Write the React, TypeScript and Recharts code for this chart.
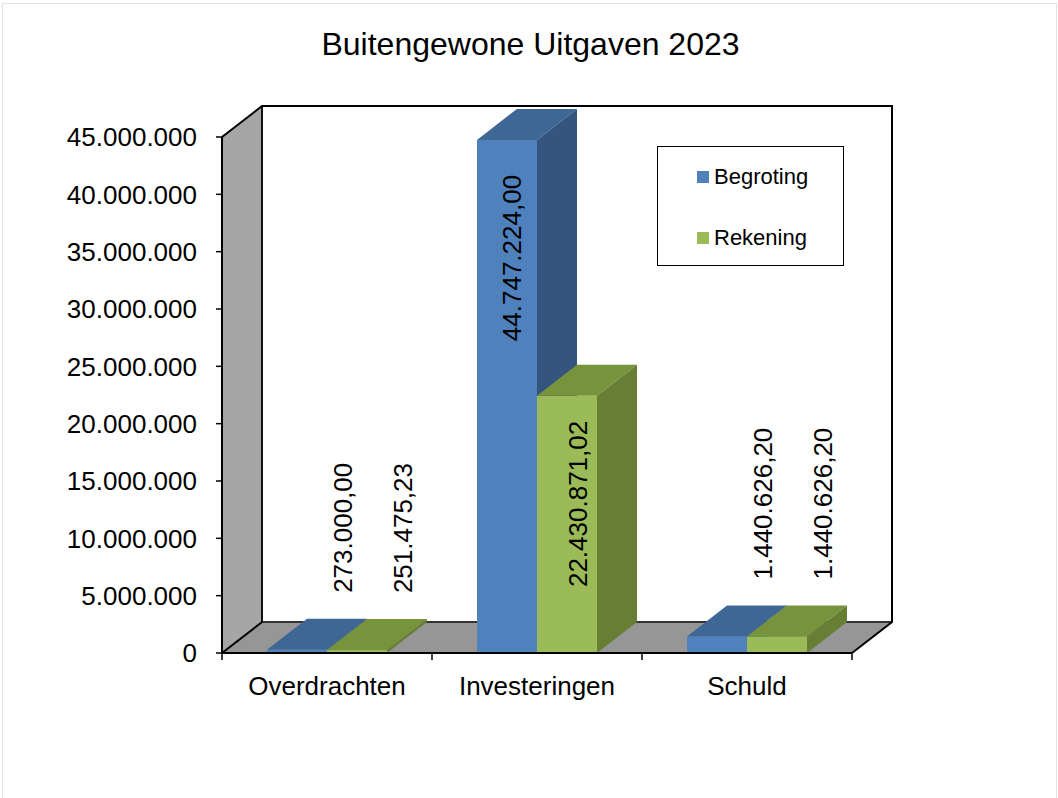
import React from 'react';
import { BarChart, Bar, XAxis, YAxis, ReferenceArea, LabelList, Legend } from 'recharts';

const categories = ['Overdrachten', 'Investeringen', 'Schuld'];
const begroting = [273000.0, 44747224.0, 1440626.2];
const rekening = [251475.23, 22430871.02, 1440626.2];
const yTicks = [0, 5000000, 10000000, 15000000, 20000000, 25000000, 30000000, 35000000, 40000000, 45000000];
const seriesNames = ['Begroting', 'Rekening'];
const title = 'Buitengewone Uitgaven 2023';

const data = categories.map((c, i) => ({ category: c, begroting: begroting[i], rekening: rekening[i] }));

const FONT = '"Liberation Sans", Arial, Helvetica, sans-serif';
const DX = 40;
const DY = -31;

const COLORS = {
  begroting: { front: '#4F81BD', top: '#3F6795', side: '#34557F' },
  rekening: { front: '#9BBB59', top: '#77933C', side: '#667F35' },
};

const thousands = (s: string) => s.replace(/\B(?=(\d{3})+(?!\d))/g, '.');
const fmtTick = (v: number) => thousands(String(Math.round(v)));
const fmtLabel = (v: number) => {
  const [i, d] = v.toFixed(2).split('.');
  return thousands(i) + ',' + d;
};

const make3DBar = (c: { front: string; top: string; side: string }) => (props: any) => {
  const { x, y, width: w, height: h } = props;
  if (x == null || w == null || h == null) return null;
  return (
    <g>
      <rect x={x} y={y} width={w} height={h} fill={c.front} />
      <polygon points={`${x},${y} ${x + DX},${y + DY} ${x + w + DX},${y + DY} ${x + w},${y}`} fill={c.top} />
      <polygon points={`${x + w},${y} ${x + w + DX},${y + DY} ${x + w + DX},${y + h + DY} ${x + w},${y + h}`} fill={c.side} />
    </g>
  );
};

const makeLabel = (insideOffset: number, insideDx: number) => (props: any) => {
  const { x, y, width, height, value } = props;
  if (value == null) return null;
  const text = fmtLabel(Number(value));
  const inside = height > 150;
  const cx = x + width / 2 + (inside ? insideDx : 46);
  const ty = inside ? y + insideOffset : y - 57;
  return (
    <text
      x={cx}
      y={ty}
      transform={`rotate(-90 ${cx} ${ty})`}
      textAnchor={inside ? 'end' : 'start'}
      dy="0.36em"
      fontSize={26}
      fontFamily={FONT}
      fill="#000"
    >
      {text}
    </text>
  );
};

const Frame = (props: any) => {
  const { x, y, width: w, height: h } = props;
  if (x == null) return null;
  const n = categories.length;
  const bx = x + DX;
  const by = y + DY;
  const fy = y + h;
  const ticks = [];
  for (let i = 0; i <= n; i++) {
    const tx = x + (w * i) / n;
    ticks.push(<line key={i} x1={tx} y1={fy} x2={tx} y2={fy + 7} stroke="#000" strokeWidth={1.5} />);
  }
  return (
    <g>
      <polygon points={`${x},${y} ${bx},${by} ${bx},${fy + DY} ${x},${fy}`} fill="#A6A6A6" />
      <polygon points={`${x},${fy} ${bx},${fy + DY} ${bx + w},${fy + DY} ${x + w},${fy}`} fill="#969696" />
      <line x1={bx} y1={fy + DY} x2={bx + w} y2={fy + DY} stroke="#333" strokeWidth={2} />
      <line x1={bx} y1={by} x2={bx} y2={fy + DY} stroke="#111" strokeWidth={2} />
      <polyline points={`${x},${y} ${bx},${by} ${bx + w},${by} ${bx + w},${fy + DY} ${x + w},${fy}`} fill="none" stroke="#000" strokeWidth={2} />
      <line x1={x} y1={fy} x2={bx} y2={fy + DY} stroke="#000" strokeWidth={2} />
      <line x1={x} y1={fy} x2={x + w} y2={fy} stroke="#000" strokeWidth={2} />
      {ticks}
    </g>
  );
};

const LegendBox = (p: any) => {
  const items = (p.payload || []) as any[];
  return (
    <div
      style={{
        width: 185,
        height: 118,
        border: '1px solid #000',
        position: 'relative',
        background: '#fff',
        fontFamily: FONT,
      }}
    >
      {items.map((e, i) => (
        <div
          key={i}
          style={{ position: 'absolute', left: 39, top: 18 + i * 61, height: 24, display: 'flex', alignItems: 'center', whiteSpace: 'nowrap' }}
        >
          <span style={{ display: 'inline-block', width: 12, height: 12, background: e.color, marginRight: 5 }} />
          <span style={{ fontSize: 22, color: '#000' }}>{e.value}</span>
        </div>
      ))}
    </div>
  );
};

export default function App() {
  return (
    <div style={{ position: 'absolute', left: 0, top: 0, width: 1058, height: 798, background: '#fff', overflow: 'hidden' }}>
      <div
        style={{
          position: 'absolute',
          left: 2,
          top: 3,
          width: 1053,
          height: 800,
          border: '1px solid #dfe4ec',
        }}
      />
      <div
        style={{
          position: 'absolute',
          left: 0,
          top: 28,
          width: 1061,
          textAlign: 'center',
          fontFamily: FONT,
          fontSize: 32,
          lineHeight: 1,
          color: '#000',
        }}
      >
        {title}
      </div>
      <div style={{ position: 'absolute', left: 0, top: 0 }}>
        <BarChart
          width={1058}
          height={798}
          data={data}
          margin={{ top: 137, right: 206, bottom: 115, left: 22 }}
          barSize={60}
          barGap={0}
        >
          <XAxis
            dataKey="category"
            height={30}
            axisLine={{ stroke: '#000', strokeWidth: 2 }}
            tickLine={false}
            tickSize={6}
            tickMargin={18}
            tick={{ fontSize: 26, fill: '#000', fontFamily: FONT }}
            interval={0}
          />
          <YAxis
            width={200}
            domain={[0, 45000000]}
            ticks={yTicks}
            interval={0}
            tickFormatter={fmtTick}
            axisLine={{ stroke: '#000', strokeWidth: 2 }}
            tickLine={{ stroke: '#000', strokeWidth: 1.5 }}
            tickSize={6}
            tickMargin={19}
            tick={{ fontSize: 26, fill: '#000', fontFamily: FONT }}
          />
          <ReferenceArea y1={0} y2={45000000} shape={Frame} ifOverflow="visible" />
          <Bar dataKey="begroting" name={seriesNames[0]} fill={COLORS.begroting.front} shape={make3DBar(COLORS.begroting)} isAnimationActive={false}>
            <LabelList dataKey="begroting" content={makeLabel(35, 5)} />
          </Bar>
          <Bar dataKey="rekening" name={seriesNames[1]} fill={COLORS.rekening.front} shape={make3DBar(COLORS.rekening)} isAnimationActive={false}>
            <LabelList dataKey="rekening" content={makeLabel(25, 11)} />
          </Bar>
          <Legend
            layout="horizontal"
            verticalAlign="middle"
            align="center"
            wrapperStyle={{ position: 'absolute', left: 657, top: 146, width: 187, height: 120, right: 'auto', bottom: 'auto' }}
            content={LegendBox}
          />
        </BarChart>
      </div>
    </div>
  );
}
